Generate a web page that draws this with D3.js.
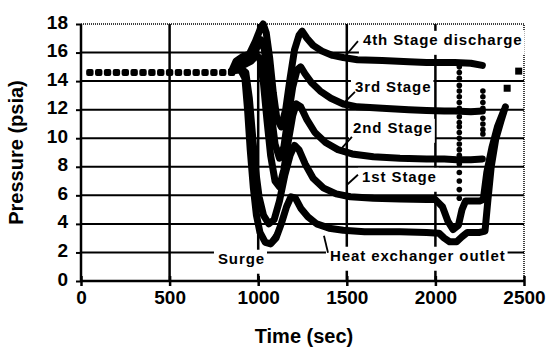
<!DOCTYPE html>
<html>
<head>
<meta charset="utf-8">
<script src="https://cdn.jsdelivr.net/npm/d3@7"></script>
<style>
  body { margin: 0; background: #fff; }
  svg text { font-family: 'Liberation Sans', Arial, sans-serif; font-weight: bold; fill: #000; }
</style>
</head>
<body>
<svg id="chart" width="549" height="348"></svg>
<script>
// values: [time (sec), pressure (psia)]
const xTicks = [0, 500, 1000, 1500, 2000, 2500]
const yTicks = [0, 2, 4, 6, 8, 10, 12, 14, 16, 18]

// idle period, all stages sit at atmospheric
const idleTimes = [50, 100, 150, 200, 250, 300, 350, 400, 450, 500, 550, 600, 650, 700, 750, 800, 850]
const idlePsia = [14.6, 14.6, 14.6, 14.6, 14.6, 14.6, 14.6, 14.6, 14.6, 14.6, 14.6, 14.6, 14.6, 14.6, 14.6, 14.6, 14.6]

const stage4 = [[850, 14.7], [875, 15.4], [910, 15.7], [950, 15.9], [985, 16.8], [1010, 17.6], [1028, 18.0],
  [1045, 17.4], [1065, 15.6], [1085, 13.2], [1105, 11.4], [1130, 10.8], [1155, 12.0], [1180, 14.2], [1205, 16.2],
  [1230, 17.2], [1248, 17.5], [1275, 17.0], [1310, 16.5], [1360, 16.1], [1420, 15.8], [1480, 15.65], [1560, 15.5],
  [1700, 15.45], [1850, 15.35], [1950, 15.3], [2050, 15.3], [2110, 15.3], [2200, 15.25], [2265, 15.1]]

const stage3 = [[850, 14.7], [880, 15.0], [920, 15.3], [955, 15.6], [990, 16.3], [1015, 16.9], [1035, 16.2],
  [1055, 14.0], [1075, 11.6], [1095, 9.6], [1120, 8.6], [1145, 9.4], [1170, 11.6], [1195, 13.6], [1220, 14.8],
  [1240, 15.0], [1265, 14.5], [1300, 13.9], [1350, 13.3], [1410, 12.8], [1480, 12.4], [1560, 12.2], [1700, 12.1],
  [1850, 12.0], [1950, 11.95], [2050, 11.9], [2110, 11.9], [2200, 11.85], [2265, 11.9]]

const stage2 = [[850, 14.7], [890, 15.0], [930, 15.2], [960, 15.4], [990, 15.8], [1010, 15.6], [1030, 13.8],
  [1050, 11.2], [1070, 8.8], [1095, 7.0], [1120, 6.6], [1145, 7.8], [1170, 9.8], [1195, 11.6], [1215, 12.4],
  [1240, 12.2], [1275, 11.3], [1320, 10.4], [1380, 9.7], [1450, 9.2], [1530, 8.9], [1650, 8.7], [1800, 8.6],
  [1950, 8.55], [2050, 8.55], [2120, 8.5], [2200, 8.5], [2265, 8.55]]

const stage1 = [[850, 14.7], [900, 14.9], [930, 14.6], [950, 12.8], [968, 10.2], [985, 7.8], [1005, 5.9],
  [1030, 4.6], [1060, 4.0], [1090, 4.3], [1120, 5.6], [1150, 7.4], [1180, 8.8], [1205, 9.5], [1230, 9.2],
  [1265, 8.2], [1310, 7.2], [1370, 6.5], [1440, 6.1], [1520, 5.9], [1650, 5.8], [1800, 5.75], [1950, 5.7],
  [2000, 5.7], [2040, 5.2], [2070, 4.2], [2100, 3.6], [2130, 3.9], [2150, 5.0], [2170, 5.6], [2250, 5.6],
  [2270, 5.7], [2290, 7.6], [2320, 9.4], [2350, 10.8], [2385, 11.9]]

const heatExchanger = [[850, 14.7], [900, 14.8], [925, 14.2], [940, 12.0], [955, 9.2], [972, 6.6], [990, 4.6],
  [1010, 3.4], [1040, 2.7], [1070, 2.6], [1100, 3.0], [1130, 4.0], [1160, 5.2], [1185, 5.9], [1210, 5.8],
  [1240, 5.1], [1280, 4.5], [1330, 4.0], [1400, 3.7], [1480, 3.55], [1600, 3.45], [1800, 3.45], [1950, 3.4],
  [2020, 3.35], [2050, 3.0], [2080, 2.75], [2120, 2.75], [2150, 3.1], [2180, 3.4], [2250, 3.4], [2280, 3.5],
  [2295, 5.5], [2315, 8.0], [2340, 9.9], [2370, 11.2], [2395, 12.2]]

// sparse samples during the fast transients (show up as dotted columns)
const dropATime = 2135
const dropAPsia = [15.0, 14.6, 14.2, 13.7, 13.3, 12.9, 12.5, 12.1, 11.5, 11.1, 10.8, 10.4, 10.0, 9.6, 9.2, 8.8, 8.2, 7.6, 7.0, 6.4, 5.8]
const dropBTime = 2268
const dropBPsia = [13.3, 12.9, 12.5, 12.1, 11.4, 11.0, 10.6, 10.3]
const recoveryTimes = [2405, 2470]
const recoveryPsia = [13.5, 14.7]

const seriesList = [stage4, stage3, stage2, stage1, heatExchanger]

// annotation text boxes, placed in data units
const notes = [
  {text: '4th Stage discharge', at: [1591, 16.54], from: [1501, 15.9], to: [1563, 16.8]},
  {text: '3rd Stage', at: [1546, 13.27], from: [1490, 12.55], to: [1546, 13.25]},
  {text: '2nd Stage', at: [1535, 10.38], from: [1473, 9.33], to: [1529, 10.1]},
  {text: '1st Stage', at: [1586, 6.95], from: [1501, 6.74], to: [1563, 7.44]},
  {text: 'Surge', at: [773, 1.21], from: [1050, 2.54], to: [1123, 3.8]},
  {text: 'Heat exchanger outlet', at: [1405, 1.42], from: [1394, 1.98], to: [1371, 3.17]}
]

const svg = d3.select('#chart')
const x = d3.scaleLinear().domain([0, 2500]).range([81, 524])
const y = d3.scaleLinear().domain([0, 18]).range([281, 24])

// grid
svg.append('g')
  .selectAll('line')
  .data(yTicks.filter(d => d > 0 && d < 18))
  .enter()
  .append('line')
  .attr('x1', x(0)).attr('x2', x(2500))
  .attr('y1', d => y(d)).attr('y2', d => y(d))
  .attr('stroke', '#000').attr('stroke-width', 2)
svg.append('g')
  .selectAll('line')
  .data(xTicks.filter(d => d > 0 && d < 2500))
  .enter()
  .append('line')
  .attr('x1', d => x(d)).attr('x2', d => x(d))
  .attr('y1', y(18)).attr('y2', y(0))
  .attr('stroke', '#000').attr('stroke-width', 2.5)

// dotted plot border top/right
svg.append('path')
  .attr('d', 'M' + x(0) + ',' + y(18) + 'H' + x(2500) + 'V' + y(0))
  .attr('fill', 'none')
  .attr('stroke', '#000')
  .attr('stroke-width', 1.5)
  .attr('stroke-dasharray', '1,1')

// axes
let xAxis = svg.append('g')
  .attr('transform', 'translate(0,' + y(0) + ')')
  .call(d3.axisBottom(x).tickValues(xTicks).tickSize(5).tickFormat(d3.format('d')))
xAxis.select('.domain').attr('stroke-width', 2.5).attr('d', 'M' + x(0) + ',0H' + x(2500))
xAxis.selectAll('.tick line').attr('y1', -5).attr('y2', 5).attr('stroke-width', 2.5)
xAxis.selectAll('.tick text').attr('y', 23).attr('dy', 0).style('font-size', '19px')

let yAxis = svg.append('g')
  .attr('transform', 'translate(' + x(0) + ',0)')
  .call(d3.axisLeft(y).tickValues(yTicks).tickSize(5))
yAxis.select('.domain').attr('stroke-width', 2.5).attr('d', 'M0,' + y(18) + 'V' + y(0))
yAxis.selectAll('.tick line').attr('stroke-width', 2)
yAxis.selectAll('.tick text').attr('x', -13).attr('y', -2).style('font-size', '19px')
svg.selectAll('.domain, .tick line').attr('stroke', '#000')

// axis titles
svg.append('text')
  .attr('x', 304).attr('y', 343)
  .attr('text-anchor', 'middle')
  .style('font-size', '20px')
  .text('Time (sec)')
svg.append('text')
  .attr('transform', 'translate(23,' + y(9) + ') rotate(-90)')
  .attr('text-anchor', 'middle')
  .style('font-size', '20px')
  .text('Pressure (psia)')

// traces
const line = d3.line().x(d => x(d[0])).y(d => y(d[1]))
svg.append('g')
  .selectAll('path')
  .data(seriesList)
  .enter()
  .append('path')
  .attr('d', line)
  .attr('fill', 'none')
  .attr('stroke', '#000')
  .attr('stroke-width', 7)
  .attr('stroke-linejoin', 'round')
  .attr('stroke-linecap', 'round')

svg.append('g')
  .selectAll('rect')
  .data(idleTimes.map((t, i) => [t, idlePsia[i]]))
  .enter()
  .append('rect')
  .attr('x', d => x(d[0]) - 3.7)
  .attr('y', d => y(d[1]) - 3.5)
  .attr('width', 7.4).attr('height', 7).attr('rx', 2)
  .attr('fill', '#000')

const dots = dropAPsia.map(p => [dropATime, p]).concat(dropBPsia.map(p => [dropBTime, p]))
svg.append('g')
  .selectAll('circle')
  .data(dots)
  .enter()
  .append('circle')
  .attr('cx', d => x(d[0]))
  .attr('cy', d => y(d[1]))
  .attr('r', 2.8)
  .attr('fill', '#000')

svg.append('g')
  .selectAll('rect')
  .data(recoveryTimes.map((t, i) => [t, recoveryPsia[i]]))
  .enter()
  .append('rect')
  .attr('x', d => x(d[0]) - 3.5)
  .attr('y', d => y(d[1]) - 3.5)
  .attr('width', 7).attr('height', 7)
  .attr('fill', '#000')

// labels with white boxes and pointer lines
let noteG = svg.append('g')
for (let n of notes) {
  let g = noteG.append('g')
  let box = g.append('rect').attr('fill', '#fff')
  let t = g.append('text')
    .attr('x', x(n.at[0]))
    .attr('y', y(n.at[1]))
    .style('font-size', '15px')
    .style('letter-spacing', '0.9px')
    .text(n.text)
  let bb = t.node().getBBox()
  box.attr('x', bb.x - 4).attr('y', y(n.at[1]) - 14)
    .attr('width', bb.width + 6).attr('height', 24)
  g.append('line')
    .attr('x1', x(n.from[0])).attr('y1', y(n.from[1]))
    .attr('x2', x(n.to[0])).attr('y2', y(n.to[1]))
    .attr('stroke', '#000').attr('stroke-width', 1.8)
}
</script>
</body>
</html>
